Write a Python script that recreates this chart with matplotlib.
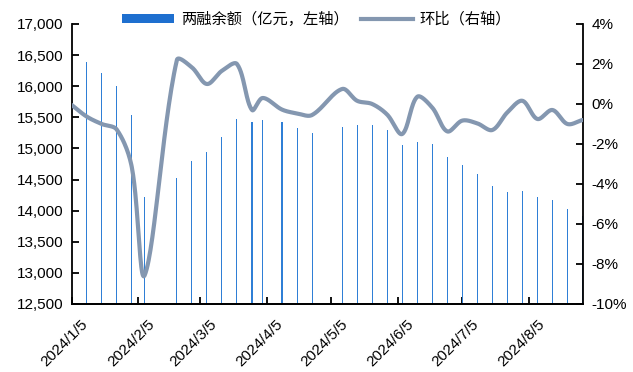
import numpy as np
import pandas as pd
import matplotlib
matplotlib.use("Agg")
import matplotlib.pyplot as plt
import matplotlib.dates as mdates
import matplotlib.transforms as mtransforms
from matplotlib.lines import Line2D
from matplotlib.patches import Patch

plt.rcParams['font.family'] = ['Liberation Sans', 'Noto Sans CJK SC', 'DejaVu Sans']

dates = ["2024-01-05", "2024-01-12", "2024-01-19", "2024-01-26", "2024-02-02", "2024-02-08",
         "2024-02-23", "2024-03-01", "2024-03-08", "2024-03-15", "2024-03-22", "2024-03-29",
         "2024-04-03", "2024-04-12", "2024-04-19", "2024-04-26", "2024-05-10", "2024-05-17",
         "2024-05-24", "2024-05-31", "2024-06-07", "2024-06-14", "2024-06-21", "2024-06-28",
         "2024-07-05", "2024-07-12", "2024-07-19", "2024-07-26", "2024-08-02", "2024-08-09",
         "2024-08-16", "2024-08-23", "2024-08-30"]
balance = [16490, 16384, 16219, 16005, 15543, 14214,
           14519, 14799, 14944, 15185, 15474, 15431,
           15463, 15420, 15334, 15243, 15350, 15378,
           15378, 15297, 15056, 15109, 15077, 14868,
           14740, 14595, 14397, 14305, 14322, 14225,
           14166, 14021, 13920]
mom = [-0.05, -0.63, -1.00, -1.28, -3.16, -8.56,
       2.20, 1.83, 1.00, 1.66, 2.00, -0.30,
       0.30, -0.28, -0.47, -0.55, 0.75, 0.16,
       0.00, -0.53, -1.50, 0.36, -0.18, -1.37,
       -0.83, -0.97, -1.30, -0.42, 0.16, -0.75,
       -0.30, -1.00, -0.80]
month_ticks = ["2024-01-05", "2024-02-05", "2024-03-05", "2024-04-05",
               "2024-05-05", "2024-06-05", "2024-07-05", "2024-08-05"]
legend_labels = ["两融余额（亿元，左轴）", "环比（右轴）"]

x = mdates.date2num(pd.to_datetime(dates))
y2 = np.array(mom)

# Excel-like smoothed rendering: Bezier segments, tangents split by segment length
def smooth(xp, yp, sx=2.16, sy=20.0, n=30, f=1/3):
    P = np.column_stack([np.asarray(xp) * sx, np.asarray(yp) * sy])
    P = np.vstack([P[0], P, P[-1]])
    out = []
    for i in range(1, len(P) - 2):
        p0, p1, p2, p3 = P[i-1], P[i], P[i+1], P[i+2]
        d01 = np.hypot(*(p1 - p0)); d12 = np.hypot(*(p2 - p1)); d23 = np.hypot(*(p3 - p2))
        a = d12 / (d01 + d12) if d01 + d12 > 0 else 0
        b = d12 / (d12 + d23) if d12 + d23 > 0 else 0
        b1 = p1 + (p2 - p0) * f * a
        b2 = p2 - (p3 - p1) * f * b
        t = np.linspace(0, 1, n, endpoint=False)[:, None]
        c = ((1-t)**3)*p1 + 3*((1-t)**2)*t*b1 + 3*(1-t)*(t**2)*b2 + (t**3)*p2
        out.append(c)
    out.append(P[-2][None, :])
    out = np.vstack(out)
    return out[:, 0] / sx, out[:, 1] / sy

sx, sy = smooth(x, y2)

fig = plt.figure(figsize=(6.33, 3.72), dpi=100)
ax = fig.add_axes([0.1133, 0.1828, 0.9215 - 0.1133, 0.9355 - 0.1828])
ax2 = ax.twinx()

bar_color = '#2F7FD6'
line_color = '#8497B0'
ax.bar(x, balance, width=0.5, color=bar_color, linewidth=0, antialiased=False, zorder=2)
ax.set_ylim(12500, 17000)
ax.set_yticks(np.arange(12500, 17001, 500))
ax.set_yticklabels([f"{v:,}" for v in range(12500, 17001, 500)])

ax2.plot(sx, sy, color=line_color, lw=3.0, solid_capstyle='round', zorder=3)
ax2.set_ylim(-10, 4)
ax2.set_yticks(np.arange(-10, 5, 2))
ax2.set_yticklabels([f"{v}%" for v in range(-10, 5, 2)])

ax.set_xlim(mdates.date2num(pd.Timestamp("2024-01-05")), mdates.date2num(pd.Timestamp("2024-08-30")) + 0.4)
tk = mdates.date2num(pd.to_datetime(month_ticks))
ax.set_xticks(tk)
ax.set_xticklabels([])
offset = mtransforms.ScaledTranslation(9/100, -13/100, fig.dpi_scale_trans)
for t, d in zip(tk, pd.to_datetime(month_ticks)):
    ax.text(t, 0, f"{d.year}/{d.month}/{d.day}", transform=ax.get_xaxis_transform() + offset,
            rotation=45, rotation_mode='anchor', ha='right', va='top', fontsize=11,
            clip_on=False)

for a in (ax, ax2):
    a.spines['top'].set_visible(False)
    for s in ('left', 'right', 'bottom'):
        a.spines[s].set_linewidth(1.3)
        a.spines[s].set_color('black')
    a.tick_params(direction='in', length=5, width=1.3, labelsize=11, colors='black')
ax.tick_params(axis='y', pad=6)
ax2.tick_params(axis='y', pad=6)
ax2.spines['left'].set_visible(False)
ax.spines['right'].set_visible(False)

handles = [Patch(facecolor='#1E6FCF', edgecolor='none'),
           Line2D([0], [0], color=line_color, lw=3.0)]
leg = fig.legend(handles, legend_labels, loc='center', bbox_to_anchor=(0.5, 0.948), ncol=2,
                 frameon=False, prop={'family': ['Noto Sans CJK SC'], 'size': 11},
                 handlelength=3.4, handleheight=0.55, columnspacing=0.8, handletextpad=0.45)

fig.savefig("out.png", dpi=100)
